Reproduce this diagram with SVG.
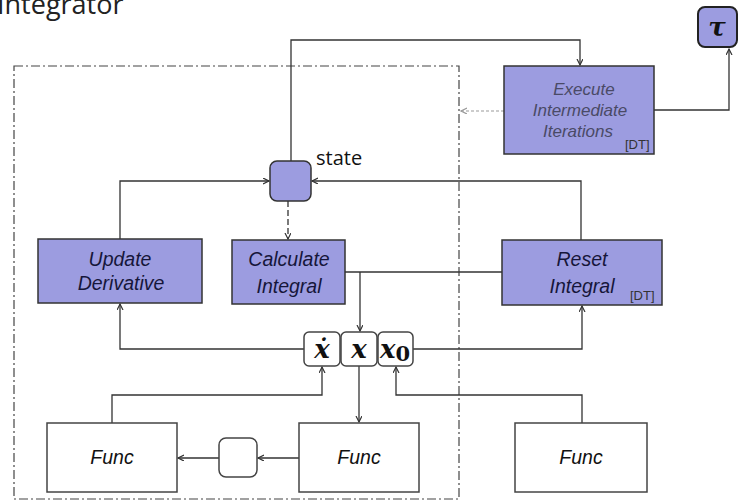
<svg xmlns="http://www.w3.org/2000/svg" width="743" height="502" viewBox="0 0 743 502">
<style>
.title{font-family:"Open Sans",sans-serif;font-size:27px;fill:#222}
.pbox{fill:#9c9ce0;stroke:#333;stroke-width:1.5}
.wbox{fill:#fff;stroke:#444;stroke-width:1.5}
.ptxt{font-family:"Liberation Sans",Arial,sans-serif;font-style:italic;font-size:19.5px;fill:#16163a;text-anchor:middle}
.gtxt{font-family:"Liberation Sans",Arial,sans-serif;font-style:italic;font-size:17px;fill:#4a4a66;text-anchor:middle}
.dt{font-family:"Liberation Sans",Arial,sans-serif;font-size:13px;fill:#333}
.ftxt{font-family:"Liberation Sans",Arial,sans-serif;font-style:italic;font-size:19.5px;fill:#111;text-anchor:middle}
.math{font-family:"DejaVu Serif","Liberation Serif",serif;font-style:italic;font-weight:bold;font-size:26px;fill:#111;text-anchor:middle}
.lbl{font-family:"Open Sans",sans-serif;font-size:20px;fill:#111}
.c{fill:none;stroke:#333;stroke-width:1.3}
.frame{fill:none;stroke:#444;stroke-width:1.2;stroke-dasharray:9,3,2,3}
</style>
<defs>
<marker id="ah" markerWidth="8" markerHeight="8" refX="6" refY="3" orient="auto" markerUnits="userSpaceOnUse">
<path d="M0,0 L6,3 L0,6" fill="none" stroke="#333" stroke-width="1.2"/>
</marker>
<marker id="ahg" markerWidth="8" markerHeight="8" refX="6" refY="3" orient="auto" markerUnits="userSpaceOnUse">
<path d="M0,0 L6,3 L0,6" fill="none" stroke="#999" stroke-width="1.2"/>
</marker>
</defs>
<text class="title" x="-3" y="14">Integrator</text>
<rect class="frame" x="14" y="66" width="445" height="433"/>
<g id="connectors">
<polyline class="c" points="291,161 291,40 580,40 580,65" marker-end="url(#ah)"/>
<polyline class="c" points="654,110 729,110 729,49" marker-end="url(#ah)"/>
<line x1="504" y1="111" x2="461" y2="111" stroke="#999" stroke-width="1" stroke-dasharray="3,2" marker-end="url(#ahg)"/>
<polyline class="c" points="120,239 120,181 269,181" marker-end="url(#ah)"/>
<polyline class="c" points="581,240 581,181 312,181" marker-end="url(#ah)"/>
<line class="c" x1="288" y1="201" x2="288" y2="239" stroke-dasharray="6,3" marker-end="url(#ah)"/>
<line class="c" x1="345" y1="272" x2="502" y2="272"/>
<line class="c" x1="360" y1="272" x2="360" y2="331" marker-end="url(#ah)"/>
<polyline class="c" points="304,349 120,349 120,304" marker-end="url(#ah)"/>
<polyline class="c" points="413,349 582,349 582,306" marker-end="url(#ah)"/>
<polyline class="c" points="112,423 112,395 322,395 322,367" marker-end="url(#ah)"/>
<line class="c" x1="359" y1="366" x2="359" y2="422" marker-end="url(#ah)"/>
<polyline class="c" points="582,423 582,395 396,395 396,367" marker-end="url(#ah)"/>
<line class="c" x1="299" y1="458" x2="258" y2="458" marker-end="url(#ah)"/>
<line class="c" x1="219" y1="458" x2="178" y2="458" marker-end="url(#ah)"/>
</g>
<g id="execute">
<rect class="pbox" x="504" y="66" width="150" height="88"/>
<text class="gtxt" x="584" y="95">Execute</text>
<text class="gtxt" x="580" y="116">Intermediate</text>
<text class="gtxt" x="578" y="137">Iterations</text>
<text class="dt" x="625" y="149">[DT]</text>
</g>
<g id="tau">
<rect x="698" y="7" width="39" height="40" rx="7" fill="#9c9ce0" stroke="#222" stroke-width="2"/>
<text class="math" x="717" y="36" font-size="28">τ</text>
</g>
<g id="state">
<rect x="270" y="161" width="41" height="40" rx="7" fill="#9c9ce0" stroke="#333" stroke-width="1.5"/>
<text class="lbl" x="316" y="165">state</text>
</g>
<g id="update">
<rect class="pbox" x="38" y="239" width="164" height="64"/>
<text class="ptxt" x="120" y="266">Update</text>
<text class="ptxt" x="121" y="290">Derivative</text>
</g>
<g id="calculate">
<rect class="pbox" x="232" y="240" width="113" height="64"/>
<text class="ptxt" x="289" y="266">Calculate</text>
<text class="ptxt" x="289" y="293">Integral</text>
</g>
<g id="reset">
<rect class="pbox" x="502" y="240" width="160" height="65"/>
<text class="ptxt" x="582" y="266">Reset</text>
<text class="ptxt" x="582" y="293">Integral</text>
<text class="dt" x="630" y="300">[DT]</text>
</g>
<g id="xdot">
<rect class="wbox" x="304" y="332" width="36" height="34" rx="5" stroke="#333" stroke-width="2"/>
<text class="math" x="322" y="358">ẋ</text>
</g>
<g id="x">
<rect class="wbox" x="341" y="332" width="36" height="34" rx="5" stroke="#333" stroke-width="2"/>
<text class="math" x="359" y="358">x</text>
</g>
<g id="x0">
<rect class="wbox" x="378" y="332" width="35" height="34" rx="5" stroke="#333" stroke-width="2"/>
<text class="math" x="395" y="358" text-anchor="middle">x<tspan font-style="normal" font-size="21" dy="3">0</tspan></text>
</g>
<g id="func1">
<rect class="wbox" x="47" y="423" width="130" height="69"/>
<text class="ftxt" x="112" y="464">Func</text>
</g>
<g id="delay">
<rect class="wbox" x="219" y="438" width="38" height="39" rx="7"/>
</g>
<g id="func2">
<rect class="wbox" x="299" y="423" width="120" height="69"/>
<text class="ftxt" x="359" y="464">Func</text>
</g>
<g id="func3">
<rect class="wbox" x="515" y="423" width="132" height="69"/>
<text class="ftxt" x="581" y="464">Func</text>
</g>
</svg>
